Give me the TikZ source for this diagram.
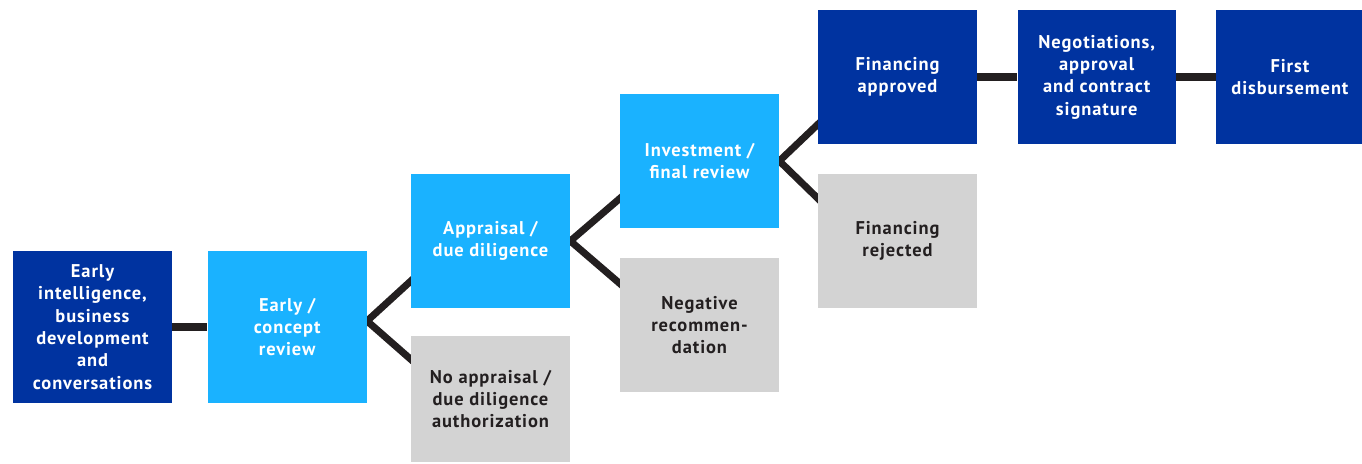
\documentclass[tikz,border=0pt]{standalone}
\usepackage{fontspec}
\setmainfont{PT Sans}[LetterSpace=5]
\usetikzlibrary{positioning,backgrounds}
\definecolor{darkblue}{RGB}{0,51,160}
\definecolor{lightblue}{RGB}{26,178,255}
\definecolor{boxgray}{RGB}{211,211,211}
\definecolor{linkcol}{RGB}{35,31,32}

\begin{document}
\begin{tikzpicture}
   [stage/.style={rectangle, inner sep=0pt, minimum width=3.18cm,
	 minimum height=2.68cm, align=center, font=\bfseries\fontsize{10.5}{12.7}\selectfont},
	final/.style={stage, fill=darkblue, text=white},
	review/.style={stage, fill=lightblue, text=white},
	stop/.style={stage, fill=boxgray, text=linkcol},
	link/.style={draw=linkcol, line width=4pt}]
\useasboundingbox (0,0) rectangle (27.24,9.26);
\node [final,minimum height=3.04cm] (intel) at (1.85,2.72) {Early\\ intelligence,\\ business\\ development\\ and\\ conversations};
\node [review,minimum height=3.04cm,right=0.7cm of intel] (concept) {Early /\\ concept\\ review};
\node [review] (apprais) at (9.81,4.44) {Appraisal /\\ due diligence};
\node [stop,minimum height=2.52cm] (noapp) at (9.81,1.28) {No appraisal /\\ due diligence\\ authorization};
\node [review] (invest) at (13.99,6.04) {Investment /\\ final review};
\node [stop] (negrec) at (13.99,2.76) {Negative\\ recommen-\\ dation};
\node [final] (approved) at (17.95,7.72) {Financing\\ approved};
\node [stop] (rejected) at (17.95,4.44) {Financing\\ rejected};
\node [final,minimum width=3.16cm,right=0.8cm of approved] (negot) {Negotiations,\\ approval\\ and contract\\ signature};
\node [final,minimum width=2.94cm,right=0.8cm of negot] (disburse) {First\\ disbursement};
\begin{scope}[on background layer]
\draw [link] (intel) -- (concept);
\draw [link] ([xshift=2mm,yshift=-0.62cm]apprais.west) -- ([yshift=0.12cm]concept.east) -- ([xshift=2mm,yshift=0.62cm]noapp.west);
\draw [link] ([xshift=2mm,yshift=-0.58cm]invest.west) -- (apprais.east) -- ([xshift=2mm,yshift=0.66cm]negrec.west);
\draw [link] ([xshift=2mm,yshift=-0.76cm]approved.west) -- (invest.east) -- ([xshift=2mm,yshift=0.66cm]rejected.west);
\draw [link] (approved) -- (negot);
\draw [link] (negot) -- (disburse);
\end{scope}
\end{tikzpicture}
\end{document}
